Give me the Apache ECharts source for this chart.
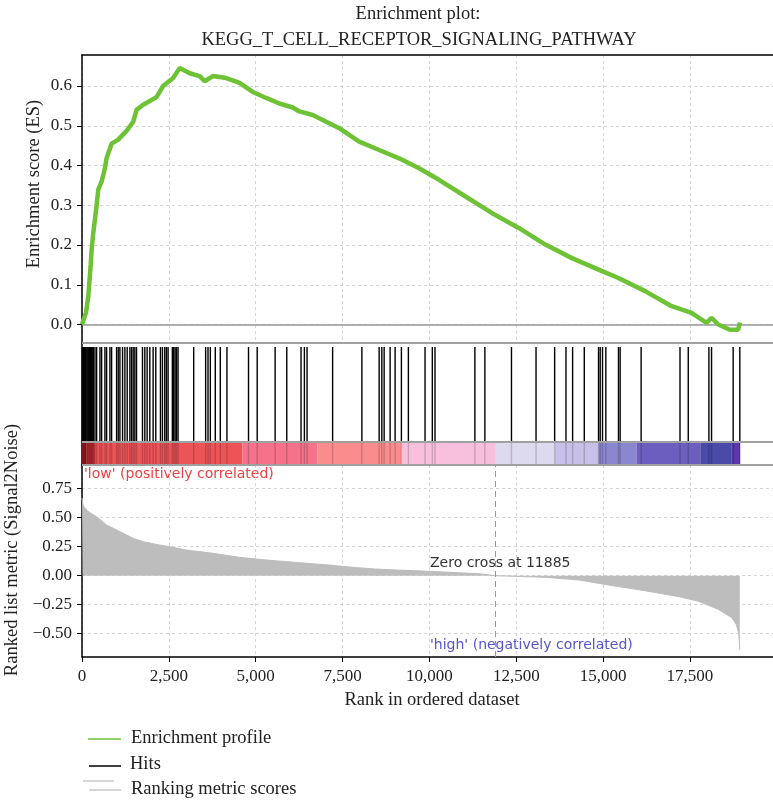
<!DOCTYPE html>
<html><head><meta charset="utf-8">
<script src="https://cdn.jsdelivr.net/npm/echarts@6/dist/echarts.min.js"></script>
<style>html,body{margin:0;padding:0;background:#fff}#c{width:773px;height:802px}</style>
</head><body><div id="c"></div>
<script>
// ---------- data ----------
const esProfile = [
  [0,0],[40,0.0],[115,0.03],[181,0.07],[250,0.15],[278,0.19],[325,0.23],[421,0.30],[469,0.34],
  [565,0.36],[650,0.389],[709,0.419],[852,0.455],[1043,0.465],[1283,0.487],[1474,0.51],[1570,0.54],[1761,0.553],
  [2144,0.572],[2335,0.60],[2622,0.62],[2813,0.645],[3100,0.632],[3387,0.625],[3530,0.612],[3769,0.625],
  [4152,0.62],[4535,0.608],[4917,0.585],[5300,0.57],[5683,0.556],[6065,0.546],[6257,0.536],[6640,0.527],
  [7405,0.494],[7979,0.46],[8553,0.439],[9127,0.418],[9701,0.393],[10275,0.364],[11040,0.322],
  [11806,0.28],[12571,0.243],[13337,0.201],[14102,0.167],[14868,0.138],[15442,0.117],[16207,0.084],
  [16972,0.046],[17546,0.029],[17977,0.004],[18121,0.017],[18312,0.0],[18648,-0.013],[18887,-0.013],[18940,0.005]
];
const hitRanks = [
  10,40,70,95,120,150,180,210,240,268,295,325,373,421,517,565,660,708,804,852,995,1043,1091,1167,
  1234,1301,1378,1426,1473,1521,1569,1741,1808,1875,1952,2047,2124,2258,2315,2382,2430,2478,
  2600,2640,2680,2720,2765,3215,3559,3627,3694,3837,3981,4172,4793,5043,5559,5894,6305,6401,6478,
  7214,8056,8553,8630,8697,8869,9013,9194,9395,9874,10084,10161,11309,11596,12362,13069,13605,
  13931,14122,14458,14868,14916,14983,15078,15442,15491,16094,17213,17451,18045,18121,18743,18935
];
const metricScores = [
  [0,0.67],[20,0.62],[55,0.595],[181,0.552],[421,0.509],[708,0.437],[995,0.394],[1473,0.322],
  [1760,0.293],[2239,0.264],[2526,0.25],[3005,0.221],[3770,0.193],[4535,0.158],[5300,0.135],
  [6257,0.112],[7214,0.089],[7788,0.072],[8458,0.057],[9032,0.049],[9989,0.038],[11424,0.017],
  [11885,0],[13337,-0.014],[14294,-0.037],[15251,-0.085],[16207,-0.13],[17164,-0.18],[17738,-0.22],
  [18312,-0.29],[18695,-0.36],[18830,-0.42],[18906,-0.50],[18935,-0.64]
];
const colorBarSegments = [
  [0,120],[120,373],[373,4621],[4621,6774],[6774,9185],[9185,11912],[11912,13605],
  [13605,14868],[14868,15959],[15959,17796],[17796,18686],[18686,18944]
];
const colorBarColors = [
  '#a81c28','#cc2f38','#ec5458','#f6728a','#fa8c8e','#f8c0dc','#dddaf0',
  '#c8c0e8','#8a86d0','#6c5ebe','#4a4aa8','#5c38aa'
];
const esTicks = [0,0.1,0.2,0.3,0.4,0.5,0.6];
const metricTicks = [-0.5,-0.25,0,0.25,0.5,0.75];
const zeroCross = 11885;
const titleLines = ['Enrichment plot:', 'KEGG_T_CELL_RECEPTOR_SIGNALING_PATHWAY'];
const legendItems = ['Enrichment profile', 'Hits', 'Ranking metric scores'];

// ---------- chart ----------
const SERIF = '"Liberation Serif", "DejaVu Serif", serif';
const SANS = '"DejaVu Sans", "Liberation Sans", sans-serif';
const X_MAX = 19890;
const BAR_TOP = 0.189;
const FS = 18.5;
const split = {show:true, lineStyle:{color:'#d6d6d6', type:[3,3], width:1}};
const comma = v => String(v).replace(/\B(?=(\d{3})+(?!\d))/g, ',');
const minus = s => s.replace('-', '\u2212');

const chart = echarts.init(document.getElementById('c'), null, {renderer:'canvas'});
chart.setOption({
  animation:false,
  backgroundColor:'#fff',
  grid:[
    {left:82, right:-2, top:55, height:288},
    {left:82, right:-2, top:343, height:122},
    {left:82, right:-2, top:465, height:192}
  ],
  xAxis:[
    {type:'value', gridIndex:0, position:'top', min:0, max:X_MAX, interval:2500,
     axisLine:{show:true, onZero:false, lineStyle:{color:'#000', width:1.5}},
     axisTick:{show:false}, axisLabel:{show:false}, splitLine:split},
    {type:'value', gridIndex:1, min:0, max:X_MAX, interval:2500,
     axisLine:{show:false}, axisTick:{show:false}, axisLabel:{show:false}, splitLine:{show:false}},
    {type:'value', gridIndex:2, min:0, max:X_MAX, interval:2500,
     axisLine:{show:true, onZero:false, lineStyle:{color:'#000', width:1.5}},
     axisTick:{show:true, length:5, lineStyle:{color:'#000'}},
     axisLabel:{show:true, margin:11, showMaxLabel:false, color:'#222', fontFamily:SERIF, fontSize:17, formatter:comma},
     splitLine:split}
  ],
  yAxis:[
    {type:'value', gridIndex:0, min:-0.0465, max:0.678,
     axisLine:{show:true, onZero:false, lineStyle:{color:'#000', width:1.5}},
     axisTick:{show:true, length:5, customValues:esTicks, lineStyle:{color:'#000'}},
     axisLabel:{show:true, margin:10, customValues:esTicks, color:'#222', fontFamily:SERIF, fontSize:17,
                formatter:v => minus(v.toFixed(1))},
     splitLine:split},
    {type:'value', gridIndex:1, min:0, max:1,
     axisLine:{show:true, onZero:false, lineStyle:{color:'#000', width:1.5}},
     axisTick:{show:false}, axisLabel:{show:false}, splitLine:{show:false}},
    {type:'value', gridIndex:2, min:-0.701, max:0.954,
     axisLine:{show:true, onZero:false, lineStyle:{color:'#000', width:1.5}},
     axisTick:{show:true, length:5, customValues:metricTicks, lineStyle:{color:'#000'}},
     axisLabel:{show:true, margin:10, customValues:metricTicks, color:'#222', fontFamily:SERIF, fontSize:17,
                formatter:v => minus(v.toFixed(2))},
     splitLine:split}
  ],
  series:[
    {type:'line', xAxisIndex:0, yAxisIndex:0, data:esProfile, symbol:'none', z:5,
     lineStyle:{color:'#6dc235', width:4.5},
     markLine:{silent:true, symbol:'none', label:{show:false}, z:3,
               lineStyle:{color:'#999', width:1.5, type:'solid'}, data:[{yAxis:0}]}},
    {type:'custom', xAxisIndex:1, yAxisIndex:1, data:colorBarSegments, z:2,
     encode:{x:[0,1]},
     renderItem:(params, api) => {
       const p0 = api.coord([api.value(0), BAR_TOP]);
       const p1 = api.coord([api.value(1), 0]);
       return {type:'rect', shape:{x:p0[0], y:p0[1], width:p1[0]-p0[0], height:p1[1]-p0[1]},
               style:{fill:colorBarColors[params.dataIndex]}};
     }},
    {type:'custom', xAxisIndex:1, yAxisIndex:1, data:hitRanks.map(r => [r]), z:3,
     encode:{x:0},
     renderItem:(params, api) => {
       const r = api.value(0);
       const top = api.coord([r, 0.967]);
       const mid = api.coord([r, BAR_TOP]);
       const bot = api.coord([r, 0]);
       return {type:'group', children:[
         {type:'line', shape:{x1:top[0], y1:top[1], x2:mid[0], y2:mid[1]}, style:{stroke:'#000', lineWidth:1.4}},
         {type:'line', shape:{x1:mid[0], y1:mid[1], x2:bot[0], y2:bot[1]}, style:{stroke:'rgba(0,0,0,0.18)', lineWidth:1.4}}
       ]};
     }},
    {type:'line', xAxisIndex:1, yAxisIndex:1, data:[], symbol:'none',
     markLine:{silent:true, symbol:'none', label:{show:false},
               lineStyle:{color:'#a0a0a0', width:2, type:'solid'},
               data:[{yAxis:1},{yAxis:BAR_TOP},{yAxis:0}]}},
    {type:'line', xAxisIndex:2, yAxisIndex:2, data:metricScores, symbol:'none', z:2,
     lineStyle:{color:'#bdbdbd', width:1}, areaStyle:{color:'#bdbdbd', opacity:1},
     markLine:{silent:true, symbol:'none', label:{show:false},
               lineStyle:{color:'#999', width:1, type:[6,4]}, data:[{xAxis:zeroCross}]}}
  ],
  graphic:[
    {type:'text', x:418, y:14, style:{text:titleLines[0], align:'center', verticalAlign:'middle', fontFamily:SERIF, fontSize:FS, fill:'#222'}},
    {type:'text', x:419, y:40, style:{text:titleLines[1], align:'center', verticalAlign:'middle', fontFamily:SERIF, fontSize:FS, fill:'#222'}},
    {type:'text', x:34, y:184, rotation:Math.PI/2, style:{text:'Enrichment score (ES)', align:'center', verticalAlign:'middle', fontFamily:SERIF, fontSize:FS, fill:'#222'}},
    {type:'text', x:12, y:550, rotation:Math.PI/2, style:{text:'Ranked list metric (Signal2Noise)', align:'center', verticalAlign:'middle', fontFamily:SERIF, fontSize:FS, fill:'#222'}},
    {type:'text', x:432, y:700, style:{text:'Rank in ordered dataset', align:'center', verticalAlign:'middle', fontFamily:SERIF, fontSize:FS, fill:'#222'}},
    {type:'text', x:84, y:474, style:{text:"'low' (positively correlated)", align:'left', verticalAlign:'middle', fontFamily:SANS, fontSize:14, fill:'#f04040'}},
    {type:'text', x:430, y:563, style:{text:'Zero cross at ' + zeroCross, align:'left', verticalAlign:'middle', fontFamily:SANS, fontSize:14, fill:'#333'}},
    {type:'text', x:430, y:645, style:{text:"'high' (negatively correlated)", align:'left', verticalAlign:'middle', fontFamily:SANS, fontSize:14, fill:'#5555cc'}},
    {type:'line', shape:{x1:88, y1:739, x2:121, y2:739}, style:{stroke:'#6dc235', lineWidth:1.5}},
    {type:'text', x:131, y:738, style:{text:legendItems[0], align:'left', verticalAlign:'middle', fontFamily:SERIF, fontSize:FS, fill:'#222'}},
    {type:'line', shape:{x1:89, y1:766, x2:121, y2:766}, style:{stroke:'#000', lineWidth:1.5}},
    {type:'text', x:130, y:764, style:{text:legendItems[1], align:'left', verticalAlign:'middle', fontFamily:SERIF, fontSize:FS, fill:'#222'}},
    {type:'line', shape:{x1:83, y1:781, x2:114, y2:781}, style:{stroke:'#c8c8c8', lineWidth:1.5}},
    {type:'line', shape:{x1:89, y1:790, x2:121, y2:790}, style:{stroke:'#c8c8c8', lineWidth:1.5}},
    {type:'text', x:131, y:789, style:{text:legendItems[2], align:'left', verticalAlign:'middle', fontFamily:SERIF, fontSize:FS, fill:'#222'}}
  ]
});
</script>
</body></html>
